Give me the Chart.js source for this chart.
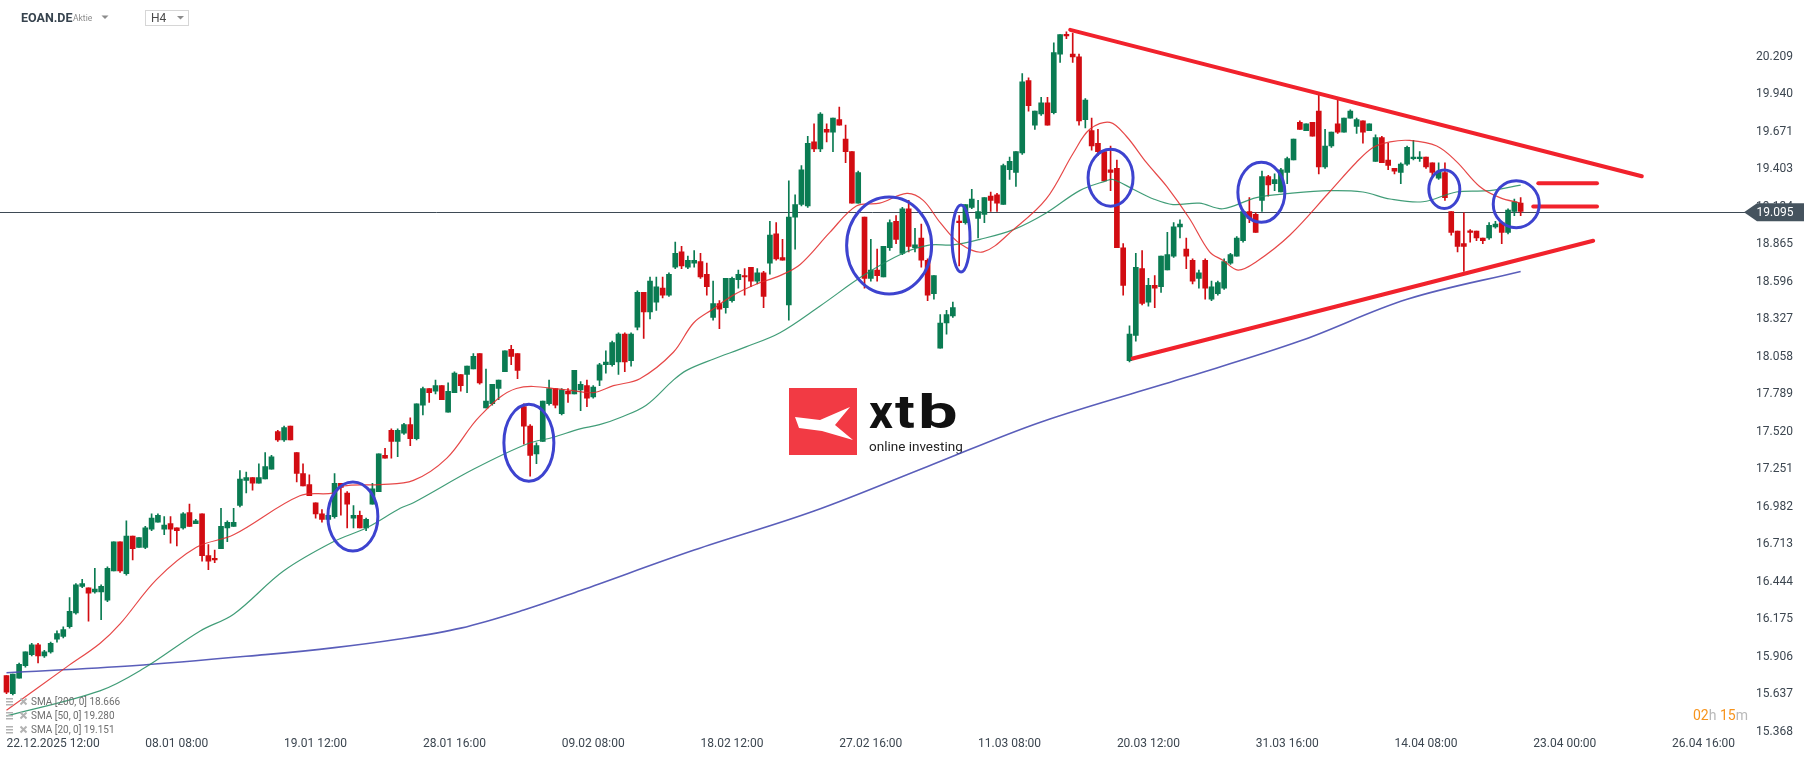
<!DOCTYPE html>
<html>
<head>
<meta charset="utf-8">
<script src="https://cdn.jsdelivr.net/npm/chart.js@4.4.1/dist/chart.umd.min.js"></script>
<style>
  html, body { margin: 0; padding: 0; background: #fff; overflow: hidden; }
  #wrap { position: relative; width: 1816px; height: 761px; }
</style>
</head>
<body>
<div id="wrap"><canvas id="chart" width="1816" height="761"></canvas></div>
<script>
// ---------------- DATA ----------------
// H4 candles, one per index (0 = 22.12.2025 12:00)
const opens = [
  15.77, 15.64, 15.75, 15.84, 15.92, 15.99, 15.91, 15.94, 16.03, 16.05,
  16.12, 16.22, 16.41, 16.40, 16.37, 16.37, 16.31, 16.52, 16.73, 16.50,
  16.77, 16.69, 16.69, 16.82, 16.87, 16.82, 16.86, 16.83, 16.83, 16.94,
  16.86, 16.93, 16.63, 16.61, 16.68, 16.83, 16.84, 16.99, 17.17, 17.19,
  17.15, 17.18, 17.25, 17.52, 17.46, 17.56, 17.37, 17.22, 17.14, 17.01,
  16.93, 16.89, 16.91, 17.15, 17.08, 16.90, 16.92, 16.83, 17.00, 17.09,
  17.35, 17.53, 17.45, 17.51, 17.57, 17.47, 17.71, 17.83, 17.81, 17.85,
  17.66, 17.80, 17.93, 17.93, 17.97, 18.08, 17.69, 17.72, 17.83, 17.95,
  18.11, 18.08, 17.70, 17.56, 17.36, 17.45, 17.72, 17.83, 17.65, 17.81,
  17.79, 17.82, 17.85, 17.77, 17.89, 18.00, 18.00, 18.02, 18.22, 18.03,
  18.27, 18.52, 18.38, 18.45, 18.55, 18.50, 18.70, 18.81, 18.70, 18.73,
  18.74, 18.65, 18.34, 18.44, 18.41, 18.46, 18.61, 18.64, 18.70, 18.60,
  18.66, 18.73, 18.94, 18.77, 18.43, 19.06, 19.15, 19.14, 19.60, 19.55,
  19.69, 19.67, 19.76, 19.62, 19.53, 19.16, 19.06, 18.62, 18.68, 18.63,
  18.84, 19.03, 18.80, 19.12, 18.84, 18.91, 18.75, 18.51, 18.12, 18.30,
  18.35, 19.03, 19.02, 19.13, 19.05, 19.08, 19.21, 19.22, 19.15, 19.40,
  19.38, 19.52, 20.04, 19.72, 19.80, 19.88, 19.81, 20.23, 20.37, 20.23,
  20.21, 19.76, 19.68, 19.59, 19.53, 19.40, 19.41, 18.84, 18.03, 18.21,
  18.69, 18.45, 18.57, 18.56, 18.68, 18.78, 18.99, 18.83, 18.75, 18.62,
  18.75, 18.47, 18.51, 18.55, 18.73, 18.78, 18.89, 19.10, 19.08, 19.18,
  19.35, 19.30, 19.24, 19.38, 19.47, 19.74, 19.68, 19.74, 19.82, 19.42,
  19.57, 19.73, 19.67, 19.77, 19.71, 19.75, 19.68, 19.46, 19.63, 19.47,
  19.41, 19.38, 19.44, 19.48, 19.48, 19.49, 19.45, 19.34, 19.38, 19.10,
  18.96, 18.87, 18.96, 18.96, 18.91, 18.91, 18.99, 19.02, 18.95, 19.10,
  19.16
];
const highs = [
  15.77, 15.78, 15.86, 15.94, 16.00, 16.00, 15.95, 16.01, 16.09, 16.12,
  16.33, 16.43, 16.46, 16.40, 16.54, 16.42, 16.55, 16.73, 16.73, 16.88,
  16.77, 16.76, 16.84, 16.93, 16.93, 16.91, 16.91, 16.83, 16.94, 17.00,
  16.89, 16.93, 16.71, 16.67, 16.97, 16.88, 16.97, 17.24, 17.23, 17.19,
  17.29, 17.37, 17.35, 17.53, 17.56, 17.56, 17.37, 17.29, 17.21, 17.01,
  16.96, 16.93, 17.22, 17.15, 17.09, 16.99, 16.95, 16.90, 17.15, 17.36,
  17.40, 17.54, 17.54, 17.58, 17.62, 17.72, 17.84, 17.83, 17.89, 17.85,
  17.87, 17.95, 17.93, 17.99, 18.08, 18.08, 17.97, 17.86, 17.89, 18.10,
  18.14, 18.08, 17.72, 17.57, 17.44, 17.74, 17.89, 17.83, 17.83, 17.83,
  17.96, 17.88, 17.89, 17.85, 18.01, 18.10, 18.17, 18.23, 18.23, 18.23,
  18.53, 18.52, 18.63, 18.63, 18.63, 18.66, 18.88, 18.85, 18.78, 18.82,
  18.80, 18.73, 18.60, 18.46, 18.62, 18.63, 18.68, 18.69, 18.70, 18.69,
  18.67, 19.03, 19.02, 18.90, 19.32, 19.22, 19.43, 19.64, 19.73, 19.81,
  19.73, 19.77, 19.85, 19.72, 19.53, 19.39, 19.06, 18.90, 18.83, 18.85,
  19.04, 19.07, 19.13, 19.18, 18.98, 19.01, 18.76, 18.64, 18.36, 18.39,
  18.45, 19.07, 19.15, 19.26, 19.18, 19.20, 19.24, 19.23, 19.44, 19.49,
  19.53, 20.09, 20.06, 19.82, 19.92, 19.92, 20.31, 20.37, 20.39, 20.38,
  20.23, 19.91, 19.77, 19.69, 19.53, 19.57, 19.47, 18.87, 18.28, 18.80,
  18.82, 18.62, 18.64, 18.78, 18.95, 19.02, 19.04, 18.91, 18.76, 18.68,
  18.76, 18.60, 18.60, 18.76, 18.80, 18.92, 19.10, 19.20, 19.09, 19.39,
  19.36, 19.37, 19.41, 19.49, 19.62, 19.75, 19.73, 19.74, 19.94, 19.69,
  19.67, 19.90, 19.77, 19.83, 19.77, 19.75, 19.73, 19.65, 19.64, 19.59,
  19.41, 19.45, 19.57, 19.61, 19.53, 19.49, 19.45, 19.45, 19.45, 19.10,
  18.96, 19.09, 18.97, 18.96, 18.91, 19.02, 19.03, 19.02, 19.12, 19.19,
  19.20
];
const lows = [
  15.64, 15.63, 15.75, 15.83, 15.91, 15.86, 15.90, 15.93, 16.01, 16.04,
  16.11, 16.21, 16.40, 16.16, 16.36, 16.17, 16.30, 16.52, 16.51, 16.49,
  16.60, 16.69, 16.68, 16.81, 16.87, 16.78, 16.72, 16.70, 16.82, 16.84,
  16.86, 16.59, 16.53, 16.58, 16.68, 16.73, 16.84, 16.98, 17.08, 17.10,
  17.15, 17.18, 17.25, 17.45, 17.45, 17.46, 17.16, 17.13, 17.06, 16.90,
  16.87, 16.88, 16.90, 16.92, 16.83, 16.83, 16.83, 16.81, 17.00, 17.09,
  17.33, 17.33, 17.34, 17.50, 17.42, 17.46, 17.64, 17.73, 17.79, 17.75,
  17.66, 17.80, 17.81, 17.80, 17.97, 17.86, 17.69, 17.71, 17.75, 17.95,
  18.00, 17.90, 17.43, 17.20, 17.29, 17.45, 17.71, 17.69, 17.64, 17.73,
  17.79, 17.67, 17.70, 17.76, 17.85, 17.94, 17.99, 17.93, 17.95, 17.99,
  18.25, 18.19, 18.33, 18.39, 18.48, 18.49, 18.69, 18.69, 18.69, 18.70,
  18.62, 18.50, 18.32, 18.26, 18.37, 18.45, 18.55, 18.50, 18.56, 18.58,
  18.41, 18.65, 18.75, 18.75, 18.32, 18.83, 19.14, 19.13, 19.53, 19.53,
  19.60, 19.53, 19.72, 19.45, 19.16, 19.16, 18.55, 18.60, 18.60, 18.63,
  18.82, 18.87, 18.79, 18.81, 18.81, 18.70, 18.46, 18.47, 18.12, 18.22,
  18.34, 18.71, 19.01, 19.12, 18.91, 19.02, 19.10, 19.10, 19.15, 19.33,
  19.28, 19.51, 19.82, 19.69, 19.79, 19.72, 19.80, 20.17, 20.34, 20.17,
  19.72, 19.70, 19.54, 19.50, 19.32, 19.25, 18.84, 18.50, 18.02, 18.17,
  18.43, 18.42, 18.41, 18.52, 18.68, 18.77, 18.91, 18.69, 18.58, 18.55,
  18.47, 18.46, 18.50, 18.54, 18.72, 18.78, 18.88, 19.02, 18.95, 19.10,
  19.21, 19.25, 19.24, 19.30, 19.47, 19.69, 19.68, 19.64, 19.37, 19.41,
  19.56, 19.66, 19.67, 19.77, 19.66, 19.59, 19.68, 19.46, 19.45, 19.40,
  19.37, 19.30, 19.43, 19.47, 19.46, 19.41, 19.35, 19.33, 19.18, 18.93,
  18.81, 18.67, 18.88, 18.89, 18.87, 18.90, 18.98, 18.87, 18.94, 19.07,
  19.07
];
const closes = [
  15.65, 15.78, 15.85, 15.94, 15.99, 15.91, 15.94, 16.00, 16.07, 16.10,
  16.23, 16.42, 16.43, 16.36, 16.39, 16.41, 16.54, 16.73, 16.52, 16.77,
  16.68, 16.76, 16.83, 16.90, 16.92, 16.85, 16.82, 16.81, 16.93, 16.84,
  16.88, 16.63, 16.59, 16.60, 16.84, 16.87, 16.87, 17.18, 17.19, 17.15,
  17.19, 17.27, 17.34, 17.46, 17.55, 17.46, 17.22, 17.13, 17.06, 16.93,
  16.89, 16.92, 17.15, 17.12, 17.00, 16.92, 16.83, 16.89, 17.11, 17.36,
  17.33, 17.45, 17.53, 17.57, 17.47, 17.72, 17.83, 17.80, 17.85, 17.75,
  17.81, 17.94, 17.85, 17.99, 18.06, 17.87, 17.74, 17.86, 17.89, 18.10,
  18.06, 17.96, 17.56, 17.35, 17.42, 17.74, 17.83, 17.71, 17.82, 17.79,
  17.96, 17.86, 17.76, 17.84, 18.00, 18.02, 18.16, 18.22, 18.02, 18.22,
  18.52, 18.38, 18.60, 18.56, 18.50, 18.65, 18.80, 18.71, 18.75, 18.75,
  18.63, 18.56, 18.44, 18.40, 18.62, 18.62, 18.65, 18.63, 18.60, 18.66,
  18.49, 18.93, 18.76, 18.75, 19.06, 19.15, 19.40, 19.59, 19.55, 19.80,
  19.67, 19.77, 19.72, 19.53, 19.16, 19.38, 18.62, 18.68, 18.64, 18.85,
  19.02, 18.90, 19.12, 18.85, 18.86, 18.75, 18.50, 18.64, 18.30, 18.36,
  18.41, 19.02, 19.15, 19.19, 19.10, 19.20, 19.18, 19.16, 19.43, 19.46,
  19.53, 20.03, 19.86, 19.82, 19.88, 19.72, 20.24, 20.37, 20.36, 20.21,
  19.75, 19.90, 19.57, 19.53, 19.32, 19.38, 18.84, 18.57, 18.22, 18.70,
  18.44, 18.57, 18.55, 18.78, 18.79, 18.99, 19.01, 18.78, 18.60, 18.66,
  18.55, 18.56, 18.59, 18.74, 18.79, 18.91, 19.10, 19.05, 18.95, 19.35,
  19.29, 19.33, 19.40, 19.48, 19.62, 19.69, 19.73, 19.64, 19.42, 19.57,
  19.67, 19.67, 19.77, 19.82, 19.76, 19.67, 19.73, 19.63, 19.45, 19.43,
  19.39, 19.44, 19.56, 19.49, 19.49, 19.42, 19.38, 19.39, 19.20, 18.95,
  18.85, 18.85, 18.95, 18.91, 18.89, 19.00, 19.01, 18.95, 19.11, 19.17,
  19.10
];

// moving averages, read at sample points (candle index -> value)
const sma20Idx = [0, 9.5, 14.8, 18, 23.8, 30.1, 36, 46.5, 51.8, 53.4, 59.2, 64.5, 69.8, 75, 80.8, 88.8, 93, 96.2, 100.4, 105.7, 108.9, 112, 115.2, 118.9, 122.6, 125.8, 130.5, 134.7, 138.4, 142.7, 145.3, 148, 151.1, 154.8, 159.6, 164.8, 169.1, 171.7, 174.9, 177.5, 180.7, 183.9, 187.5, 190.7, 192.8, 195.2, 198.1, 203.4, 209.7, 213.9, 216.6, 219.3, 222.4, 226.7, 229.8, 233.5, 236.7, 240];
const sma20Val = [15.52, 15.83, 16.00, 16.14, 16.46, 16.69, 16.78, 17.06, 17.08, 17.13, 17.14, 17.17, 17.33, 17.63, 17.83, 17.82, 17.80, 17.85, 17.90, 18.09, 18.30, 18.40, 18.50, 18.58, 18.64, 18.72, 18.95, 19.14, 19.16, 19.23, 19.18, 19.02, 18.87, 18.81, 18.97, 19.19, 19.52, 19.69, 19.74, 19.64, 19.45, 19.28, 19.05, 18.81, 18.75, 18.68, 18.74, 18.93, 19.24, 19.45, 19.56, 19.60, 19.61, 19.57, 19.46, 19.28, 19.20, 19.16];

const sma50Idx = [0, 14.8, 21.7, 30.7, 36, 43.9, 51.8, 57.1, 62.4, 64.5, 74, 82.4, 86.7, 90.9, 94, 97.2, 101.4, 105.7, 107.8, 112, 117.3, 122.6, 128.9, 135.8, 142.1, 146.4, 150, 154.3, 159.6, 164.8, 170.1, 174.3, 175.4, 178.6, 181.8, 184.9, 189.1, 192.8, 198.1, 203.4, 209.7, 215, 219.3, 224.5, 229.8, 235.1, 240];
const sma50Val = [15.48, 15.66, 15.82, 16.09, 16.21, 16.52, 16.73, 16.83, 16.97, 17.01, 17.25, 17.43, 17.48, 17.54, 17.57, 17.62, 17.71, 17.89, 17.96, 18.04, 18.13, 18.23, 18.42, 18.64, 18.80, 18.86, 18.86, 18.90, 18.97, 19.09, 19.25, 19.32, 19.33, 19.26, 19.19, 19.15, 19.16, 19.12, 19.20, 19.23, 19.25, 19.24, 19.19, 19.17, 19.24, 19.25, 19.29];

const sma200Idx = [0, 20, 41, 52, 62, 72, 82, 91, 109, 128, 146, 164, 187, 205, 222, 240];
const sma200Val = [15.79, 15.84, 15.92, 15.97, 16.03, 16.11, 16.24, 16.38, 16.67, 16.95, 17.27, 17.59, 17.91, 18.17, 18.47, 18.67];

// axis ticks
const xTickIdx = [0, 22, 44, 66, 88, 110, 132, 154, 176, 198, 220, 242, 264];
const xTickText = ["22.12.2025 12:00", "08.01 08:00", "19.01 12:00", "28.01 16:00", "09.02 08:00", "18.02 12:00", "27.02 16:00", "11.03 08:00", "20.03 12:00", "31.03 16:00", "14.04 08:00", "23.04 00:00", "26.04 16:00"];
const yTicks = [15.368, 15.637, 15.906, 16.175, 16.444, 16.713, 16.982, 17.251, 17.520, 17.789, 18.058, 18.327, 18.596, 18.865, 19.134, 19.403, 19.671, 19.940, 20.209];
const lastPrice = 19.095;

// drawings: triangle, levels, circled areas (index, price)
const triTopIdx = [168.6, 259.2], triTopVal = [20.404, 19.353];
const triBotIdx = [178.5, 251.5], triBotVal = [18.045, 18.890];
const levelIdx = [[242.8, 252.1], [242.0, 252.1]];
const levelVal = [19.303, 19.136];
const ringIdx = [54.9, 82.8, 139.9, 151.3, 175.0, 198.9, 227.9, 239.3];
const ringVal = [16.912, 17.441, 18.856, 18.906, 19.342, 19.238, 19.260, 19.153];
const ringRx = [25, 25, 42.5, 9, 22.5, 23.5, 15.5, 23];
const ringRy = [34.5, 38.5, 48.5, 33.5, 28.5, 30, 19.3, 23.5];

const legendRows = ["SMA [200, 0] 18.666", "SMA [50, 0] 19.280", "SMA [20, 0] 19.151"];

// ---------------- COLORS ----------------
const UP = "#0a7b52";
const DOWN = "#d20c12";
const candleColors = closes.map((c, i) => (c >= opens[i] ? UP : DOWN));

const pts = (xs, ys) => xs.map((x, i) => ({ x, y: ys[i] }));

// ---------------- OVERLAY ----------------
const overlay = {
  id: "overlay",
  beforeDatasetsDraw(chart) {
    const { ctx, chartArea, scales: { y } } = chart;
    ctx.save();
    // xtb logo
    ctx.fillStyle = "#f23a44";
    ctx.fillRect(789, 388, 68, 67);
    ctx.fillStyle = "#fff";
    ctx.beginPath();
    ctx.moveTo(795, 417);
    ctx.lineTo(820, 420);
    ctx.lineTo(850, 407);
    ctx.lineTo(835, 425);
    ctx.lineTo(853, 440);
    ctx.lineTo(822, 431);
    ctx.lineTo(799, 428);
    ctx.closePath();
    ctx.fill();
    ctx.fillStyle = "#111";
    ctx.textBaseline = "alphabetic";
    ctx.font = "bold 47px Roboto";
    ctx.fillText("x", 869, 428);
    ctx.save(); ctx.translate(895, 428); ctx.scale(1.25, 1); ctx.fillText("t", 0, 0); ctx.restore();
    ctx.save(); ctx.translate(918, 428); ctx.scale(1.5, 1); ctx.fillText("b", 0, 0); ctx.restore();
    ctx.font = "13.5px Roboto";
    ctx.fillStyle = "#222";
    ctx.fillText("online investing", 869, 451);

    // current price line
    const py = Math.round(y.getPixelForValue(lastPrice)) + 0.5;
    ctx.strokeStyle = "#3e4a55";
    ctx.lineWidth = 1;
    ctx.beginPath();
    ctx.moveTo(0, py);
    ctx.lineTo(chartArea.right, py);
    ctx.stroke();
    ctx.restore();
  },
  afterDatasetsDraw(chart) {
    const { ctx, scales: { x, y } } = chart;
    ctx.save();
    ctx.strokeStyle = "#3d43cf";
    ctx.lineWidth = 3;
    ringIdx.forEach((v, i) => {
      ctx.beginPath();
      ctx.ellipse(x.getPixelForValue(v), y.getPixelForValue(ringVal[i]), ringRx[i], ringRy[i], 0, 0, Math.PI * 2);
      ctx.stroke();
    });
    ctx.restore();
  },
  afterDraw(chart) {
    const { ctx, chartArea, scales: { y } } = chart;
    ctx.save();
    // header
    ctx.textBaseline = "middle";
    ctx.fillStyle = "#37434e";
    ctx.font = "bold 12.5px Roboto";
    ctx.fillText("EOAN.DE", 21, 18.5);
    ctx.fillStyle = "#8a8a8a";
    ctx.font = "8.5px Roboto";
    ctx.fillText("Aktie", 73, 19);
    ctx.fillStyle = "#8c8c8c";
    ctx.beginPath(); ctx.moveTo(101.5, 15.5); ctx.lineTo(108.5, 15.5); ctx.lineTo(105, 19); ctx.closePath(); ctx.fill();
    ctx.strokeStyle = "#d6d6d6";
    ctx.lineWidth = 1;
    ctx.strokeRect(145.5, 10.5, 43, 15);
    ctx.fillStyle = "#4a4a4a";
    ctx.font = "12px Roboto";
    ctx.fillText("H4", 151, 19);
    ctx.fillStyle = "#8c8c8c";
    ctx.beginPath(); ctx.moveTo(177, 16); ctx.lineTo(184, 16); ctx.lineTo(180.5, 19.5); ctx.closePath(); ctx.fill();

    // SMA legend
    legendRows.forEach((t, i) => {
      const ly = 702 + i * 14;
      ctx.fillStyle = "#b3b3b3";
      ctx.fillRect(6, ly - 4, 7, 1.5);
      ctx.fillRect(6, ly - 1, 7, 1.5);
      ctx.fillRect(6, ly + 2, 7, 1.5);
      ctx.strokeStyle = "#b3b3b3";
      ctx.lineWidth = 2;
      ctx.beginPath();
      ctx.moveTo(20.5, ly - 3.5); ctx.lineTo(26.5, ly + 2.5);
      ctx.moveTo(26.5, ly - 3.5); ctx.lineTo(20.5, ly + 2.5);
      ctx.stroke();
      ctx.fillStyle = "#6f6f6f";
      ctx.font = "10px Roboto";
      ctx.fillText(t, 31, ly);
    });

    // countdown
    ctx.font = "14px Roboto";
    let cx = 1693;
    [["02", "#f7941d"], ["h ", "#b9b9b9"], ["15", "#f7941d"], ["m", "#b9b9b9"]].forEach(([s, c]) => {
      ctx.fillStyle = c;
      ctx.fillText(s, cx, 716);
      cx += ctx.measureText(s).width;
    });

    // price label
    const py = y.getPixelForValue(lastPrice);
    ctx.fillStyle = "#45535e";
    ctx.beginPath();
    ctx.moveTo(chartArea.right - 1, py);
    ctx.lineTo(1757, py - 9);
    ctx.lineTo(1804, py - 9);
    ctx.lineTo(1804, py + 9);
    ctx.lineTo(1757, py + 9);
    ctx.closePath();
    ctx.fill();
    ctx.fillStyle = "#fff";
    ctx.font = "12px Roboto";
    ctx.fillText(lastPrice.toFixed(3), 1756.5, py + 0.5);
    ctx.restore();
  },
};

// ---------------- CHART ----------------
const lineDs = (data, color, width, order) => ({
  type: "line",
  data,
  borderColor: color,
  borderWidth: width,
  pointRadius: 0,
  tension: 0.35,
  fill: false,
  order,
});

const drawLine = (data) => ({
  type: "line",
  data,
  borderColor: "#f1222c",
  borderWidth: 4,
  borderCapStyle: "round",
  pointRadius: 0,
  tension: 0,
  fill: false,
  order: 0,
});

// remove the label overhang padding so the plot fills the canvas
const noPad = (scale) => {
  scale.paddingTop = 0;
  scale.paddingBottom = 0;
  scale.paddingLeft = 0;
  scale.paddingRight = 0;
};

new Chart(document.getElementById("chart"), {
  type: "bar",
  data: {
    datasets: [
      drawLine(pts(triTopIdx, triTopVal)),
      drawLine(pts(triBotIdx, triBotVal)),
      drawLine(pts(levelIdx[0], [levelVal[0], levelVal[0]])),
      drawLine(pts(levelIdx[1], [levelVal[1], levelVal[1]])),
      lineDs(pts(sma20Idx, sma20Val), "rgba(226,40,40,0.85)", 1.2, 1),
      lineDs(pts(sma50Idx, sma50Val), "rgba(32,140,96,0.85)", 1.2, 1),
      lineDs(pts(sma200Idx, sma200Val), "rgba(72,76,178,0.9)", 1.6, 1),
      {
        type: "bar",
        data: opens.map((o, i) => ({ x: i, y: [o, closes[i]] })),
        backgroundColor: candleColors,
        barThickness: 5,
        minBarLength: 1.5,
        grouped: false,
        borderWidth: 0,
        order: 2,
      },
      {
        type: "bar",
        data: lows.map((l, i) => ({ x: i, y: [l, highs[i]] })),
        backgroundColor: candleColors,
        barThickness: 1,
        grouped: false,
        borderWidth: 0,
        order: 3,
      },
    ],
  },
  options: {
    responsive: false,
    animation: false,
    devicePixelRatio: 1,
    layout: { padding: { left: 0, right: 23, top: 0, bottom: 7 } },
    plugins: { legend: { display: false }, tooltip: { enabled: false } },
    scales: {
      x: {
        type: "linear",
        min: -1.03,
        max: 275.56,
        offset: false,
        grid: { display: false, drawTicks: false },
        border: { display: false },
        afterFit: noPad,
        afterBuildTicks: (scale) => {
          scale.ticks = xTickIdx.map((v) => ({ value: v }));
        },
        ticks: {
          autoSkip: false,
          maxRotation: 0,
          align: "start",
          padding: 3,
          color: "#3c4650",
          font: { family: "Roboto", size: 12 },
          callback: (v, i) => xTickText[i],
        },
      },
      y: {
        position: "right",
        min: 15.353,
        max: 20.618,
        grid: { display: false, drawTicks: false },
        border: { display: false },
        afterFit: (scale) => {
          scale.width = 48;
          noPad(scale);
        },
        afterBuildTicks: (scale) => {
          scale.ticks = yTicks.map((v) => ({ value: v }));
        },
        ticks: {
          padding: 11,
          crossAlign: "near",
          color: "#3c4650",
          font: { family: "Roboto", size: 12 },
          callback: (v) => v.toFixed(3),
        },
      },
    },
  },
  plugins: [overlay],
});
</script>
</body>
</html>
